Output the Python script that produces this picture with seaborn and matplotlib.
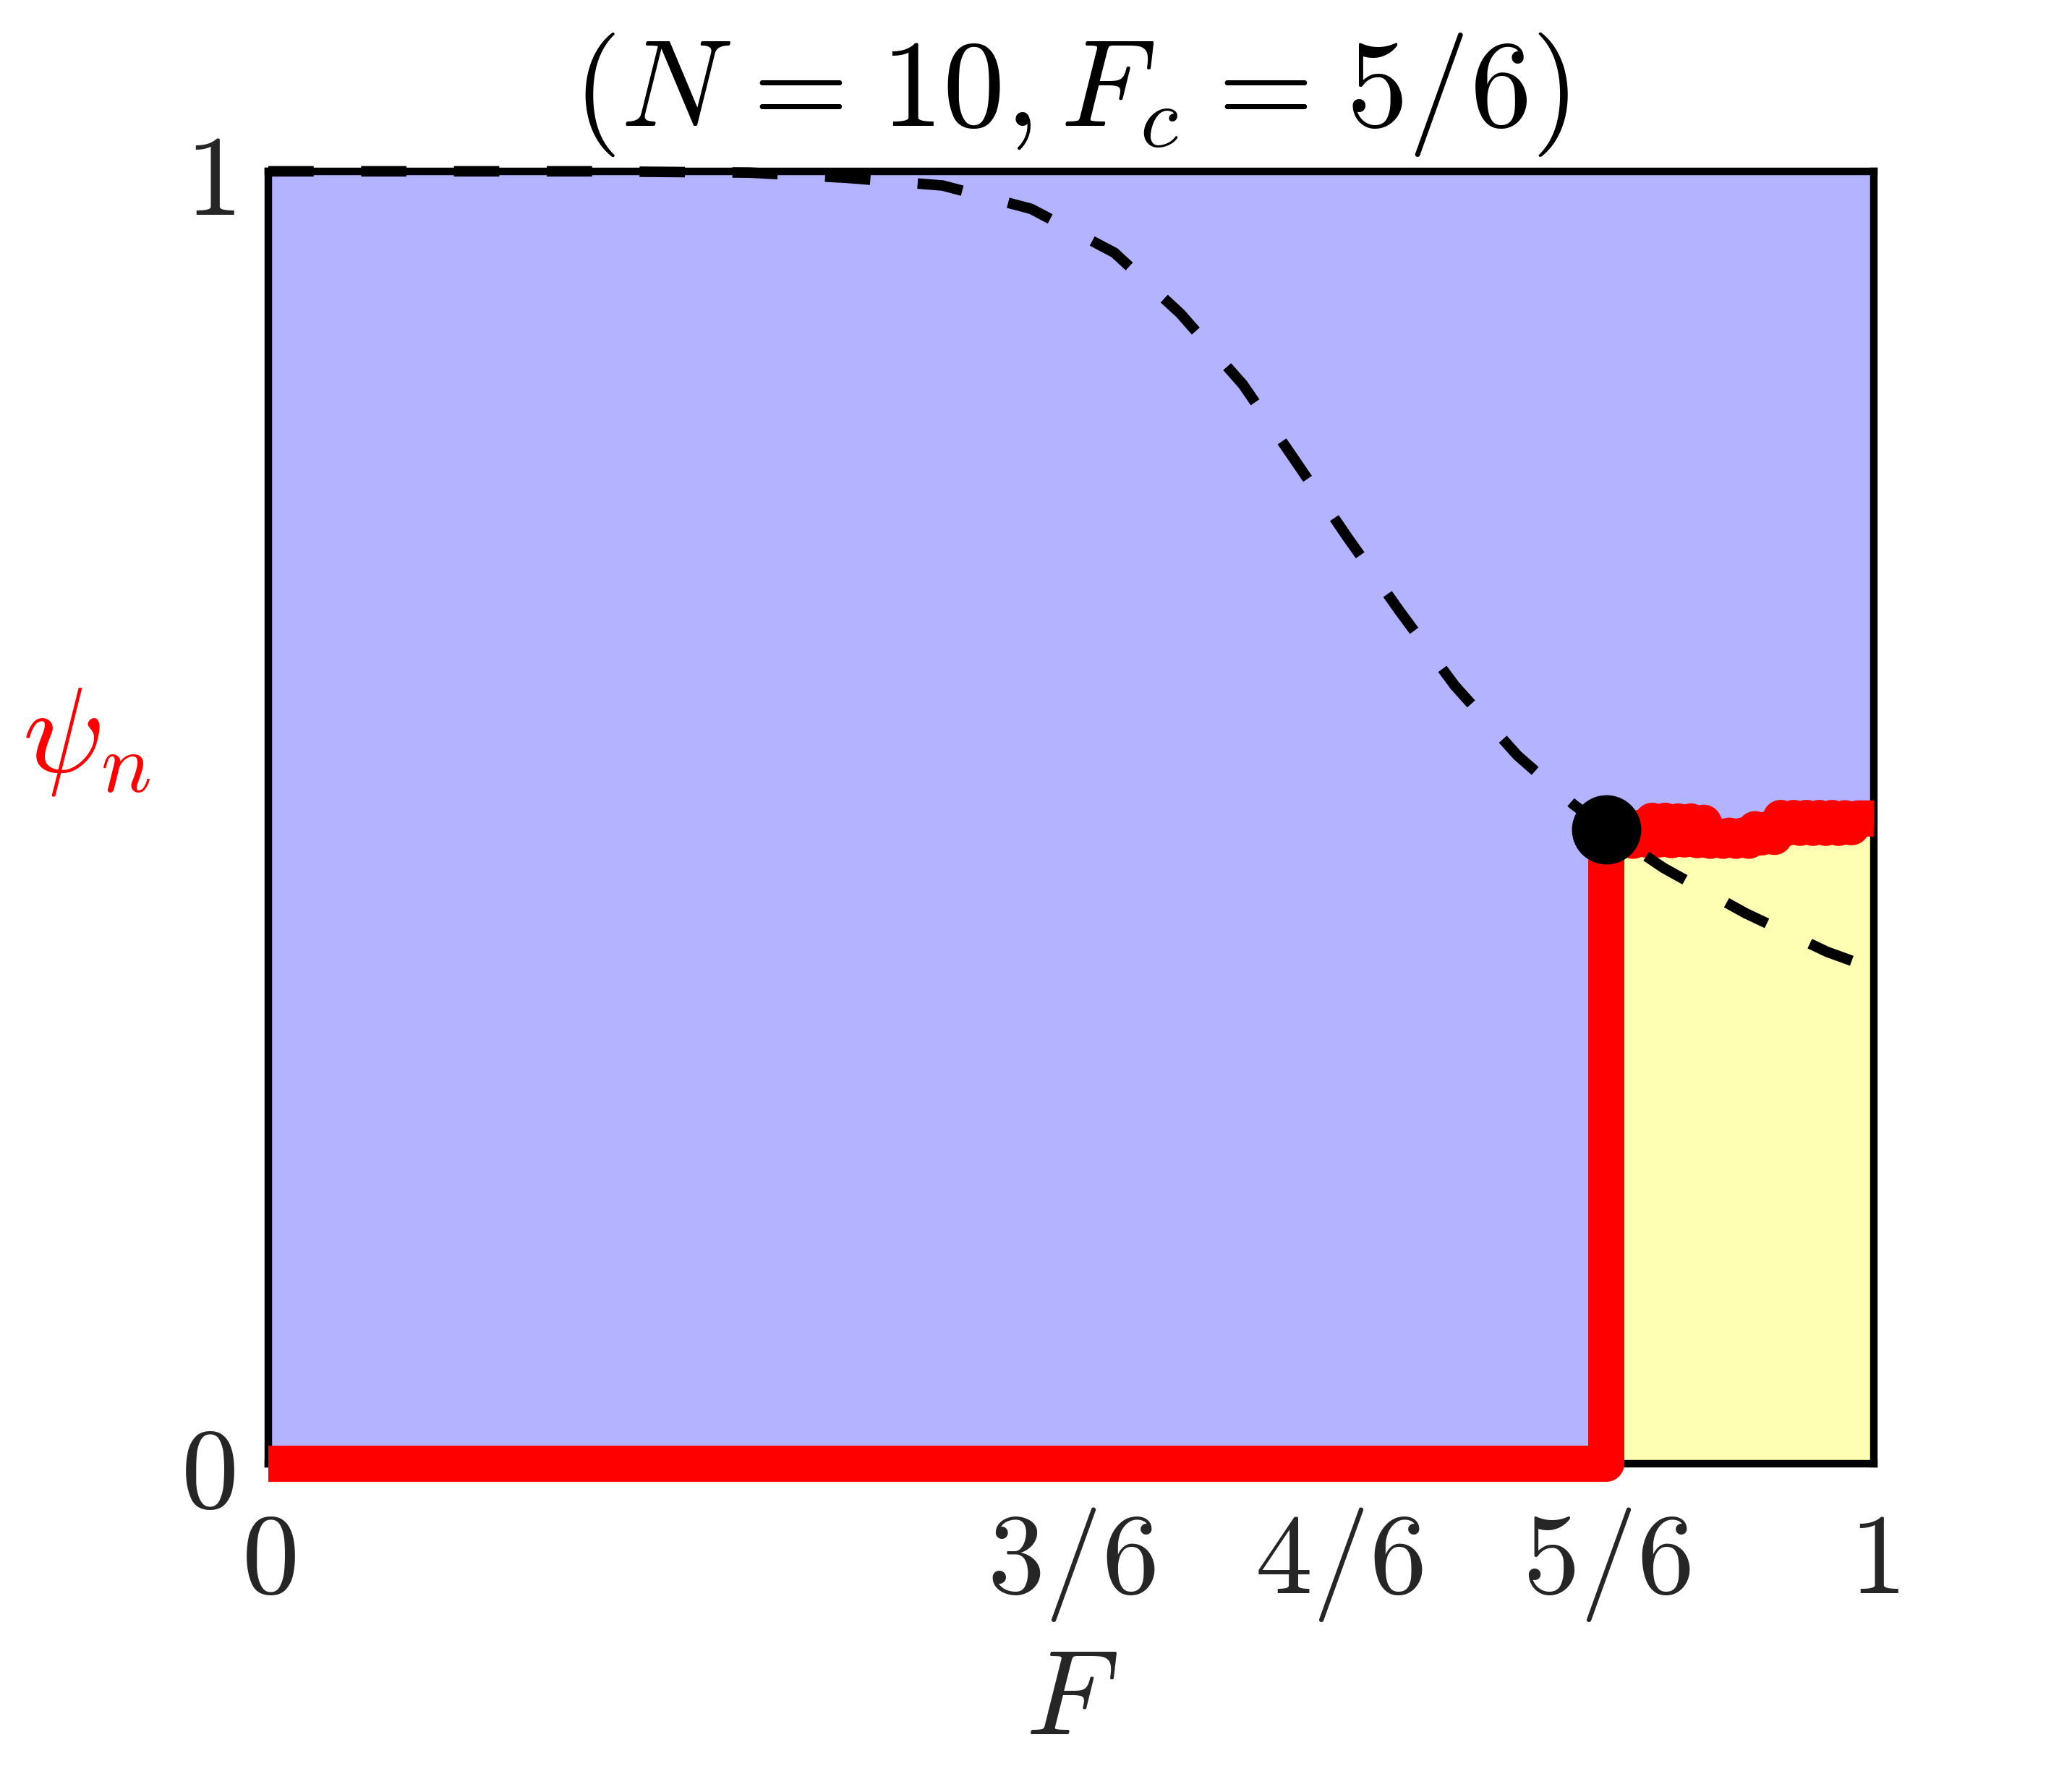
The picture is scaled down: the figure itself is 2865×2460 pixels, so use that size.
import matplotlib
matplotlib.use("Agg")
import matplotlib.pyplot as plt
import pandas as pd
import seaborn as sns

# Dashed reference curve
F_curve = [0.0, 0.1, 0.2, 0.3, 0.36, 0.42, 0.475, 0.527, 0.568, 0.607, 0.638,
           0.672, 0.705, 0.739, 0.778, 0.813, 0.8333, 0.869, 0.92, 0.971, 1.0]
psi_curve = [1.0, 1.0, 1.0, 0.999, 0.995, 0.989, 0.971, 0.937, 0.890, 0.835, 0.779,
             0.717, 0.659, 0.602, 0.548, 0.510, 0.491, 0.461, 0.426, 0.396, 0.383]

# Red order parameter: zero up to F_c, then a noisy plateau
F_red = [0.0, 0.8333, 0.8333, 0.838, 0.842, 0.846, 0.850, 0.854, 0.858, 0.862,
         0.866, 0.870, 0.874, 0.878, 0.882, 0.886, 0.890, 0.894, 0.898, 0.902,
         0.906, 0.910, 0.914, 0.918, 0.922, 0.926, 0.930, 0.934, 0.938, 0.942,
         0.946, 0.950, 0.954, 0.958, 0.962, 0.966, 0.970, 0.974, 0.978, 0.982,
         0.986, 0.990, 0.995, 1.0]
psi_red = [0.0, 0.0, 0.490, 0.493, 0.482, 0.493, 0.482, 0.492, 0.483, 0.4975,
           0.483, 0.4975, 0.4825, 0.497, 0.483, 0.497, 0.4825, 0.496, 0.482, 0.486,
           0.482, 0.486, 0.482, 0.486, 0.482, 0.491, 0.4846, 0.491, 0.485, 0.4997,
           0.492, 0.4997, 0.492, 0.4997, 0.492, 0.4997, 0.492, 0.4997, 0.492, 0.4995,
           0.4925, 0.4993, 0.4993, 0.4992]

# Critical point
F_c = [0.8333]
psi_c = [0.491]

x_ticks = [0, 3 / 6, 4 / 6, 5 / 6, 1]
x_ticklabels = [r'$0$', r'$3/6$', r'$4/6$', r'$5/6$', r'$1$']
y_ticks = [0, 1]
y_ticklabels = [r'$0$', r'$1$']

df_curve = pd.DataFrame({'F': F_curve, 'psi': psi_curve})
df_red = pd.DataFrame({'F': F_red, 'psi': psi_red})

sns.set_theme(style='white')
plt.rcParams['mathtext.fontset'] = 'cm'

fig = plt.figure(figsize=(9.55, 8.2), dpi=300)
ax = fig.add_axes([0.1295, 0.1772, 0.7749, 0.7265])

# shaded phases
ax.fill_between(df_red.F, df_red.psi, 1, color='#b3b3ff', lw=0, zorder=1)
ax.fill_between(df_red.F, 0, df_red.psi, color='#ffffb3', lw=0, zorder=1)

sns.lineplot(data=df_red, x='F', y='psi', estimator=None, sort=False, ax=ax,
             color='red', linewidth=12, solid_capstyle='butt',
             solid_joinstyle='round', clip_on=False, zorder=3)
sns.lineplot(data=df_curve, x='F', y='psi', estimator=None, sort=False, ax=ax,
             color='black', linewidth=3.5, clip_on=False, zorder=4)
ax.lines[-1].set_dashes((4.3, 4.5))
ax.lines[-1].set_dash_capstyle('butt')
ax.plot(F_c, psi_c, 'o', color='black', markersize=22, zorder=5, clip_on=False)

ax.set_xlim(0, 1)
ax.set_ylim(0, 1)
ax.set_xticks(x_ticks)
ax.set_xticklabels(x_ticklabels)
ax.set_yticks(y_ticks)
ax.set_yticklabels(y_ticklabels)
ax.tick_params(axis='x', labelsize=38, pad=14, length=0)
ax.tick_params(axis='y', labelsize=38, pad=11, length=0)

ax.set_xlabel(r'$F$', fontsize=40, labelpad=6)
ax.set_ylabel(r'$\psi_n$', fontsize=40, color='red', rotation=0,
              ha='center', va='center')
ax.yaxis.set_label_coords(-0.113, 0.561)
ax.set_title(r'$(N\hspace{0.1}=\hspace{0.1}10,F_c\hspace{0.1}=\hspace{0.1}5/6)$',
             fontsize=41, color='black', pad=15)

for s in ax.spines.values():
    s.set_color('black')
    s.set_linewidth(2.5)
    s.set_zorder(2)

fig.savefig('out.png', dpi=300)
